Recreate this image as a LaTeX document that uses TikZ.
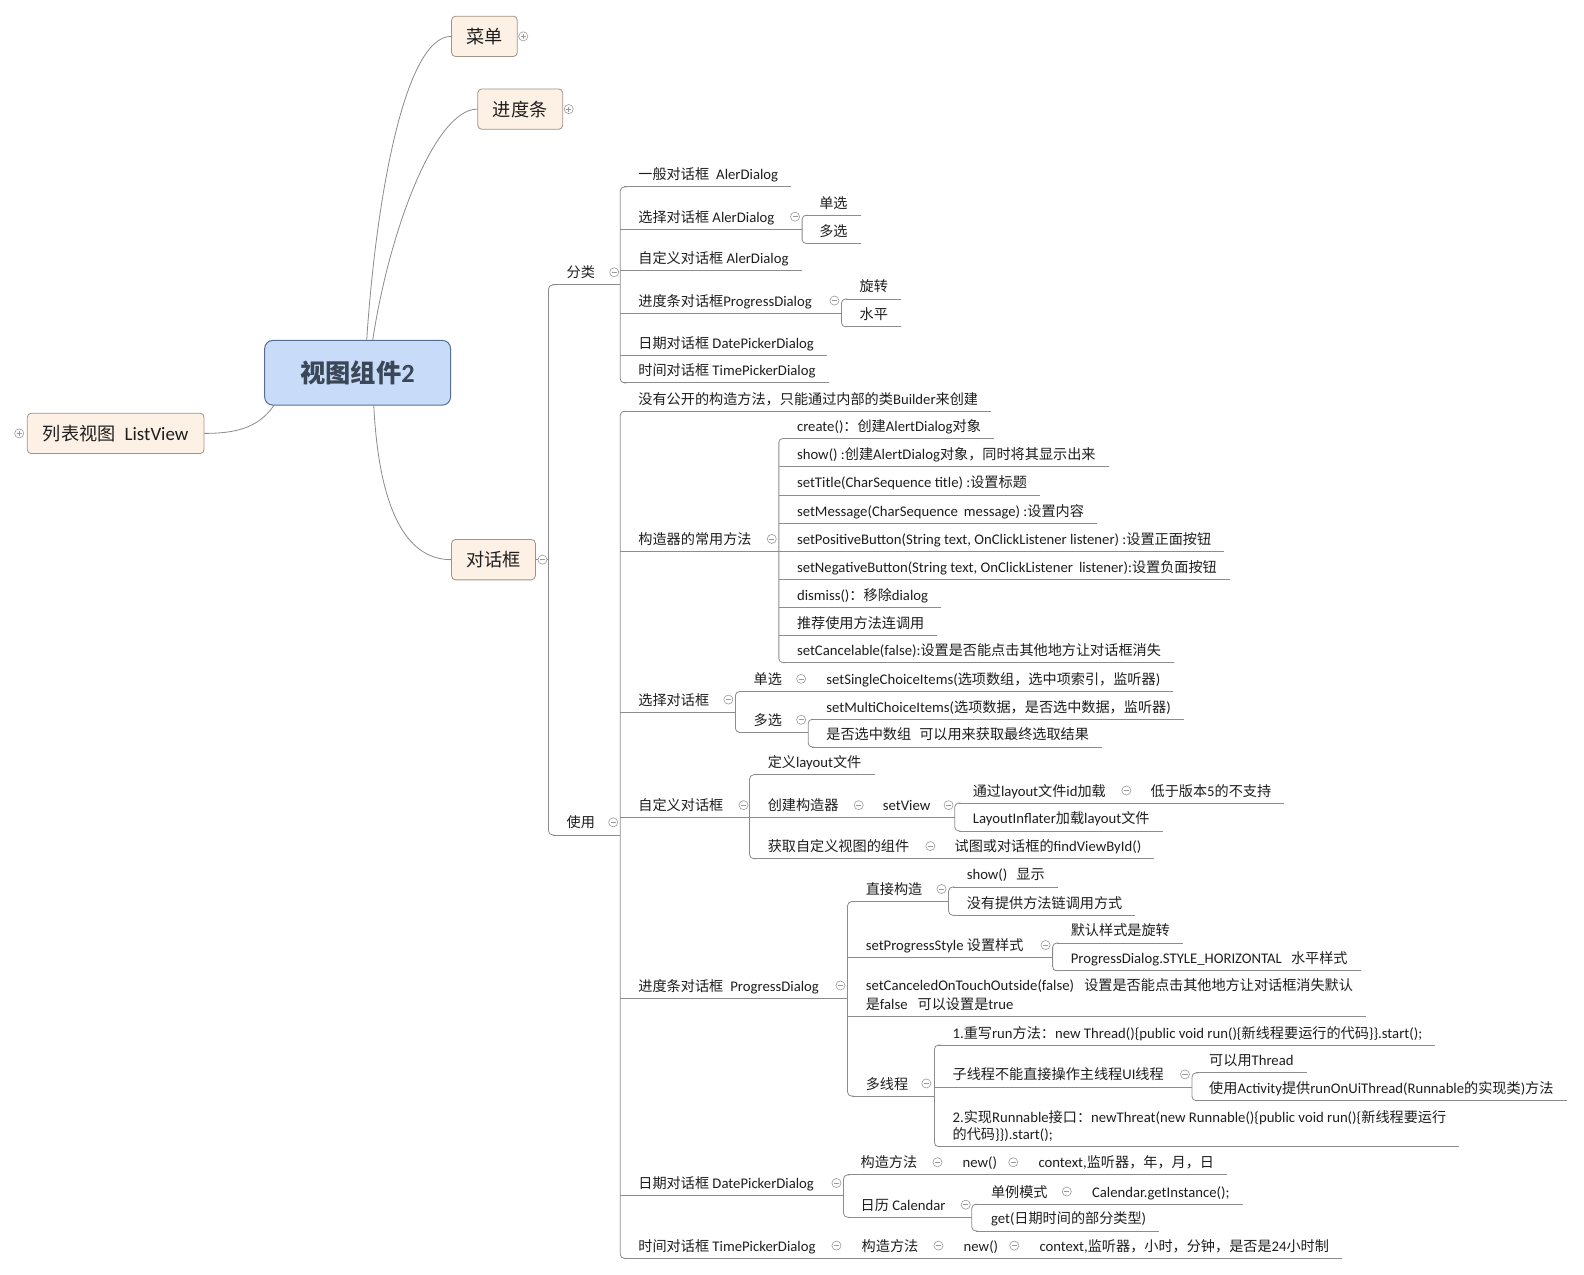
\documentclass[tikz,border=0pt]{standalone}
\usepackage{fontspec}
\setmainfont{Carlito}[Scale=1.04]
\newfontfamily\cjkfont{Noto Sans CJK SC}
\XeTeXinterchartokenstate=1
\chardef\CJKclass=7
\newcount\cjkc
\def\setcjkrange#1#2{\cjkc=#1\relax
  \loop\XeTeXcharclass\cjkc=\CJKclass\relax
  \ifnum\cjkc<#2\relax\advance\cjkc by 1\relax\repeat}
\setcjkrange{"3000}{"303F}
\setcjkrange{"4E00}{"9FFF}
\setcjkrange{"FF00}{"FFEF}
\XeTeXinterchartoks 0 \CJKclass = {\cjkfont}
\XeTeXinterchartoks 1 \CJKclass = {\cjkfont}
\XeTeXinterchartoks 2 \CJKclass = {\cjkfont}
\XeTeXinterchartoks 3 \CJKclass = {\cjkfont}
\XeTeXinterchartoks 4095 \CJKclass = {\cjkfont}
\XeTeXinterchartoks \CJKclass 0 = {\rmfamily}
\XeTeXinterchartoks \CJKclass 1 = {\rmfamily}
\XeTeXinterchartoks \CJKclass 2 = {\rmfamily}
\XeTeXinterchartoks \CJKclass 3 = {\rmfamily}
\XeTeXinterchartoks \CJKclass 4095 = {\rmfamily}

\definecolor{lnc}{HTML}{8C8C8C}
\definecolor{txc}{HTML}{1E1E1E}
\definecolor{topfill}{HTML}{FDF1E6}
\definecolor{topdraw}{HTML}{A39386}
\definecolor{rootfill}{HTML}{C8DCFA}
\definecolor{rootdraw}{HTML}{566F92}
\definecolor{roottext}{HTML}{3B4656}
\definecolor{circc}{HTML}{9A9A9A}

\tikzset{
  ln/.style={draw=lnc, line width=0.8pt},
  txt/.style={anchor=base west, inner sep=0pt, outer sep=0pt, text=txc, font={\fontsize{14}{17}\selectfont}},
  mcirc/.style={circle, draw=circc, fill=white, inner sep=0pt, minimum size=9pt, line width=0.6pt,
    path picture={\draw[circc, line width=0.7pt] ([xshift=-2.5pt]path picture bounding box.center) -- ([xshift=2.5pt]path picture bounding box.center);}},
  pcirc/.style={circle, draw=circc, fill=white, inner sep=0pt, minimum size=9pt, line width=0.6pt,
    path picture={\draw[circc, line width=0.7pt] ([xshift=-2.5pt]path picture bounding box.center) -- ([xshift=2.5pt]path picture bounding box.center);
      \draw[circc, line width=0.7pt] ([yshift=-2.5pt]path picture bounding box.center) -- ([yshift=2.5pt]path picture bounding box.center);}},
  topicbox/.style={draw=topdraw, fill=topfill, rounded corners=4pt, line width=0.8pt, minimum height=40pt, inner sep=0pt, text=txc, font={\fontsize{18}{22}\selectfont}},
  rootbox/.style={draw=rootdraw, fill=rootfill, rounded corners=8pt, line width=1pt, minimum width=184pt, minimum height=64pt, inner sep=0pt, text=roottext, font={\bfseries\fontsize{25}{30}\selectfont}},
}

% name, xstart, underline y, text x, text
\newcommand\myleaf[5]{%
  \node[txt] (#1) at (#4,#3-7) {#5};
  \draw[ln] (#2,#3) -- ([xshift=13pt]#1.east |- #2,#3);}
% name, xstart, underline y, text x, text, xend
\newcommand\mytopic[6]{%
  \node[txt] (#1) at (#4,#3-7) {#5};
  \draw[ln] (#2,#3) -- (#6,#3);}
\newcommand\mybrk[3]{\draw[ln, rounded corners=4pt] (#1+6,#2) -- (#1,#2) -- (#1,#3) -- (#1+6,#3);}

\begin{document}
\begin{tikzpicture}[x=1pt,y=-1pt]
\fill[white] (0,0) rectangle (1568,1262);
\useasboundingbox (0,0) rectangle (1568,1262);

% ---------- root and main topics ----------
\node[rootbox] (root) at (354,369) {视图组件2};
\node[topicbox, minimum width=65pt] (caidan) at (479.5,36) {菜单};
\node[topicbox, minimum width=84pt] (jindu) at (515,108) {进度条};
\node[topicbox, minimum width=83pt] (duihua) at (488.5,554) {对话框};
\node[topicbox, minimum width=175pt] (listv) at (114.5,429) {列表视图\hspace{9pt}ListView};

\draw[ln] ([xshift=9pt]root.north) .. controls (372,200) and (400,36) .. (caidan.west);
\draw[ln] ([xshift=15pt]root.north) .. controls (385,230) and (430,108) .. (jindu.west);
\draw[ln] ([xshift=16pt]root.south) .. controls (375,500) and (400,554) .. (duihua.west);
\draw[ln] ([xshift=-83pt]root.south) .. controls (255,425) and (230,429) .. (listv.east);

\node[pcirc] (p1) at (518,36) {};
\node[pcirc] (p2) at (563,108) {};
\node[pcirc] (p3) at (19,429) {};

\draw[ln] (duihua.east) -- (543,554);
\node[mcirc] (m0) at (537,554) {};
\mybrk{543}{282}{826.5}

% ---------- 分类 ----------
\mytopic{fenlei}{547}{282}{561}{分类}{614}
\node[mcirc] (mfl) at (608,269.5) {};
\mybrk{614}{185}{379}
\myleaf{a1}{618}{185}{632}{一般对话框\hspace{7pt}AlerDialog}
\mytopic{a2}{614}{227}{632}{选择对话框 AlerDialog}{794}
\node[mcirc] (ma2) at (787,214.5) {};
\mybrk{794}{213}{241}
\myleaf{a21}{798}{213}{811}{单选}
\myleaf{a22}{798}{241}{811}{多选}
\myleaf{a3}{614}{268}{632}{自定义对话框 AlerDialog}
\mytopic{a4}{614}{310}{632}{进度条对话框ProgressDialog}{833}
\node[mcirc] (ma4) at (826,297.5) {};
\mybrk{833}{296}{323.5}
\myleaf{a41}{837}{296}{851}{旋转}
\myleaf{a42}{837}{323.5}{851}{水平}
\myleaf{a5}{614}{351.5}{632}{日期对话框 DatePickerDialog}
\myleaf{a6}{618}{379}{632}{时间对话框 TimePickerDialog}

% ---------- 使用 ----------
\mytopic{shiyong}{547}{826.5}{561}{使用}{614}
\node[mcirc] (msy) at (607,814) {};
\mybrk{614}{407}{1245.6}
\myleaf{b1}{618}{407}{632}{没有公开的构造方法，只能通过内部的类Builder来创建}

\mytopic{b2}{614}{546}{632}{构造器的常用方法}{771}
\node[mcirc] (mb2) at (764,533.5) {};
\mybrk{771}{434}{656}
\myleaf{b21}{775}{434}{789}{create()：创建AlertDialog对象}
\myleaf{b22}{771}{462}{789}{show() :创建AlertDialog对象，同时将其显示出来}
\myleaf{b23}{771}{490}{789}{setTitle(CharSequence title) :设置标题}
\myleaf{b24}{771}{518}{789}{setMessage(CharSequence\hspace{6pt}message) :设置内容}
\myleaf{b25}{771}{546}{789}{setPositiveButton(String text, OnClickListener listener) :设置正面按钮}
\myleaf{b26}{771}{573.5}{789}{setNegativeButton(String text, OnClickListener\hspace{6pt}listener):设置负面按钮}
\myleaf{b27}{771}{601}{789}{dismiss()：移除dialog}
\myleaf{b28}{771}{629}{789}{推荐使用方法连调用}
\myleaf{b29}{775}{656}{789}{setCancelable(false):设置是否能点击其他地方让对话框消失}

\mytopic{b3}{614}{705}{632}{选择对话框}{728}
\node[mcirc] (mb3) at (721,692.5) {};
\mybrk{728}{684.5}{725}
\node[txt] (b31) at (746,684.5-7) {单选};
\node[mcirc] (mb31) at (793,672) {};
\node[txt] (b31a) at (818,684.5-7) {setSingleChoiceItems(选项数组，选中项索引，监听器)};
\draw[ln] (732,684.5) -- ([xshift=13pt]b31a.east |- 732,684.5);
\mytopic{b32}{732}{725}{746}{多选}{800}
\node[mcirc] (mb32) at (793,712.5) {};
\mybrk{800}{712}{739.5}
\myleaf{b321}{804}{712}{818}{setMultiChoiceItems(选项数据，是否选中数据，监听器)}
\myleaf{b322}{804}{739.5}{818}{是否选中数组\hspace{8pt}可以用来获取最终选取结果}

\mytopic{b4}{614}{809.5}{632}{自定义对话框}{742}
\node[mcirc] (mb4) at (736,797) {};
\mybrk{742}{767}{850}
\myleaf{b41}{746}{767}{760}{定义layout文件}
\node[txt] (b42) at (760,809.5-7) {创建构造器};
\node[mcirc] (mb42) at (850,797) {};
\node[txt] (b42a) at (874,809.5-7) {setView};
\node[mcirc] (mb42a) at (939,797) {};
\draw[ln] (742,809.5) -- (945,809.5);
\mybrk{945}{795}{822.5}
\node[txt] (b421) at (963,795-7) {通过layout文件id加载};
\node[mcirc] (mb421) at (1115,782.5) {};
\node[txt] (b421a) at (1139,795-7) {低于版本5的不支持};
\draw[ln] (949,795) -- ([xshift=13pt]b421a.east |- 949,795);
\myleaf{b422}{949}{822.5}{963}{LayoutInflater加载layout文件}
\node[txt] (b43) at (760,850-7) {获取自定义视图的组件};
\node[mcirc] (mb43) at (921,837.5) {};
\node[txt] (b43a) at (945,850-7) {试图或对话框的findViewById()};
\draw[ln] (746,850) -- ([xshift=13pt]b43a.east |- 746,850);

\mytopic{b5}{614}{988}{632}{进度条对话框\hspace{7pt}ProgressDialog}{839}
\node[mcirc] (mb5) at (832,975.5) {};
\mybrk{839}{892.5}{1085}
\mytopic{b51}{843}{892.5}{857}{直接构造}{939}
\node[mcirc] (mb51) at (932,880) {};
\mybrk{939}{878}{906}
\myleaf{b511}{943}{878}{957}{show()\hspace{9pt}显示}
\myleaf{b512}{943}{906}{957}{没有提供方法链调用方式}
\mytopic{b52}{839}{948}{857}{setProgressStyle 设置样式}{1042}
\node[mcirc] (mb52) at (1035,935.5) {};
\mybrk{1042}{933.5}{961}
\myleaf{b521}{1046}{933.5}{1060}{默认样式是旋转}
\myleaf{b522}{1046}{961}{1060}{ProgressDialog.STYLE\_HORIZONTAL\hspace{9pt}水平样式}
\node[txt] (b53) at (857,1006.5-26) {setCanceledOnTouchOutside(false)\hspace{10pt}设置是否能点击其他地方让对话框消失默认};
\node[txt] (b53b) at (857,1006.5-7) {是false\hspace{10pt}可以设置是true};
\draw[ln] (839,1006.5) -- ([xshift=13pt]b53.east |- 839,1006.5);
\mytopic{b54}{843}{1085}{857}{多线程}{925}
\node[mcirc] (mb54) at (917,1072.5) {};
\mybrk{925}{1034.5}{1135}
\myleaf{b541}{929}{1034.5}{943}{1.重写run方法：new Thread()\{public void run()\{新线程要运行的代码\}\}.start();}
\mytopic{b542}{925}{1076}{943}{子线程不能直接操作主线程UI线程}{1180}
\node[mcirc] (mb542) at (1173,1063.5) {};
\mybrk{1180}{1062}{1089.6}
\myleaf{b5421}{1184}{1062}{1197}{可以用Thread}
\myleaf{b5422}{1184}{1089.6}{1197}{使用Activity提供runOnUiThread(Runnable的实现类)方法}
\node[txt] (b543) at (943,1135-24) {2.实现Runnable接口：newThreat(new Runnable()\{public void run()\{新线程要运行};
\node[txt] (b543b) at (943,1135-7) {的代码\}\}).start();};
\draw[ln] (929,1135) -- ([xshift=13pt]b543.east |- 929,1135);

\mytopic{b6}{614}{1183.6}{632}{日期对话框 DatePickerDialog}{835}
\node[mcirc] (mb6) at (828,1171) {};
\mybrk{835}{1163}{1205}
\node[txt] (b61) at (852,1163-7) {构造方法};
\node[mcirc] (mb61) at (928,1150.5) {};
\node[txt] (b61a) at (953,1163-7) {new()};
\node[mcirc] (mb61a) at (1003,1150.5) {};
\node[txt] (b61b) at (1028,1163-7) {context,监听器，年，月，日};
\draw[ln] (839,1163) -- ([xshift=13pt]b61b.east |- 839,1163);
\mytopic{b62}{839}{1205}{852}{日历 Calendar}{962}
\node[mcirc] (mb62) at (956,1192.5) {};
\mybrk{962}{1192}{1218.5}
\node[txt] (b621) at (981,1192-7) {单例模式};
\node[mcirc] (mb621) at (1056,1179.5) {};
\node[txt] (b621a) at (1081,1192-7) {Calendar.getInstance();};
\draw[ln] (966,1192) -- ([xshift=13pt]b621a.east |- 966,1192);
\myleaf{b622}{966}{1218.5}{981}{get(日期时间的部分类型)}

\node[txt] (b7) at (632,1245.6-7) {时间对话框 TimePickerDialog};
\node[mcirc] (mb7) at (828,1233) {};
\node[txt] (b7a) at (853,1245.6-7) {构造方法};
\node[mcirc] (mb7a) at (929,1233) {};
\node[txt] (b7b) at (954,1245.6-7) {new()};
\node[mcirc] (mb7b) at (1004,1233) {};
\node[txt] (b7c) at (1029,1245.6-7) {context,监听器，小时，分钟，是否是24小时制};
\draw[ln] (618,1245.6) -- ([xshift=13pt]b7c.east |- 618,1245.6);
\end{tikzpicture}
\end{document}
